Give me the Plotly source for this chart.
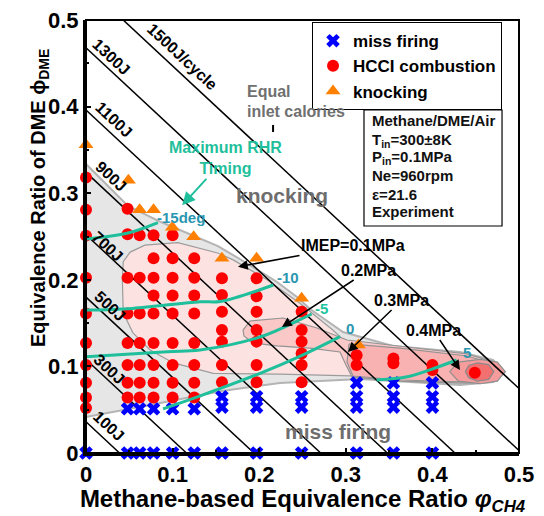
import plotly.graph_objects as go

FONT = "Liberation Sans, Arial, sans-serif"

# ---------------- data ----------------
# equal inlet-calorie lines (J/cycle): intercepts on the DME axis and methane axis
cal_E = [100, 300, 500, 700, 900, 1100, 1300, 1500]
cal_y0 = [0.036, 0.108, 0.180, 0.252, 0.324, 0.396, 0.468, 0.540]
cal_x0 = [0.0387, 0.116, 0.194, 0.271, 0.348, 0.426, 0.503, 0.580]
cal_text = ["100J", "300J", "500J", "700J", "900J", "1100J", "1300J", "1500J/cycle"]
cal_lab_x = [0.027, 0.027, 0.028, 0.025, 0.029, 0.032, 0.030, 0.111]
cal_lab_y = [0.031, 0.096, 0.169, 0.239, 0.319, 0.385, 0.457, 0.458]

# miss firing
miss_x = [0, 0.048, 0.062, 0.078, 0.1, 0.125, 0.157, 0.197, 0.249, 0.3125, 0.355, 0.4,
          0.048, 0.062, 0.078, 0.1, 0.125, 0.157, 0.197, 0.249, 0.3125, 0.355, 0.4,
          0.157, 0.197, 0.249, 0.3125, 0.355, 0.4,
          0.3125, 0.355, 0.4]
miss_y = [0] * 12 + [0.051] * 5 + [0.053] * 6 + [0.065] * 6 + [0.081] * 3

# HCCI combustion
hcci_x = ([0] * 10 + [0.048] * 8 + [0.062] * 7 + [0.078] * 9 + [0.1] * 9 + [0.125] * 8
          + [0.157] * 7 + [0.197] * 7 + [0.249] * 6 + [0.3125] * 2 + [0.355] * 2 + [0.4] * 2 + [0.449])
hcci_y = ([0.318, 0.281, 0.251, 0.2025, 0.161, 0.127, 0.1016, 0.081, 0.064, 0.052]
          + [0.282, 0.2525, 0.2025, 0.161, 0.127, 0.1016, 0.081, 0.064]
          + [0.2515, 0.2025, 0.161, 0.127, 0.1016, 0.081, 0.064]
          + [0.2515, 0.2248, 0.2025, 0.182, 0.161, 0.127, 0.1016, 0.081, 0.064]
          + [0.2515, 0.2248, 0.2025, 0.182, 0.161, 0.127, 0.1016, 0.081, 0.064]
          + [0.2248, 0.2025, 0.182, 0.161, 0.127, 0.1016, 0.081, 0.064]
          + [0.2017, 0.1824, 0.163, 0.142, 0.1286, 0.1016, 0.0816]
          + [0.2017, 0.181, 0.163, 0.142, 0.1286, 0.1016, 0.0816]
          + [0.163, 0.142, 0.1286, 0.115, 0.1016, 0.0816]
          + [0.113, 0.1016]
          + [0.109, 0.1036]
          + [0.1016, 0.0958]
          + [0.0927])

# knocking
knock_x = [0, 0.049, 0.062, 0.078, 0.0997, 0.1243, 0.157, 0.197, 0.249, 0.3145]
knock_y = [0.356, 0.315, 0.281, 0.281, 0.2606, 0.2498, 0.2248, 0.2248, 0.1786, 0.1247]

# IMEP regions (contour outlines)
gray_x = [0, 0.0485, 0.0866, 0.1259, 0.1524, 0.1813, 0.2206, 0.2436, 0.2587, 0.2968, 0.3545,
          0.4319, 0.47, 0.4838, 0.47, 0.4319, 0.3164, 0.224, 0.1571, 0.0739, 0]
gray_y = [0.3337, 0.2852, 0.2667, 0.2506, 0.239, 0.2217, 0.1975, 0.1801, 0.1663, 0.1397, 0.1236,
          0.1166, 0.1074, 0.0935, 0.082, 0.0785, 0.0855, 0.0808, 0.0716, 0.0554, 0.0416]
imep1_x = [0.042, 0.043, 0.051, 0.068, 0.106, 0.152, 0.170, 0.209, 0.247, 0.285, 0.301, 0.363,
           0.440, 0.470, 0.480, 0.470, 0.432, 0.363, 0.305, 0.224, 0.147, 0.101, 0.074, 0.054, 0.043]
imep1_y = [0.200, 0.221, 0.232, 0.240, 0.243, 0.231, 0.223, 0.200, 0.173, 0.142, 0.127, 0.119,
           0.110, 0.105, 0.094, 0.084, 0.081, 0.083, 0.089, 0.091, 0.092, 0.104, 0.119, 0.139, 0.162]
imep2_x = [0.1813, 0.1894, 0.2275, 0.2667, 0.3014, 0.3626, 0.44, 0.4746, 0.4815, 0.4746, 0.44,
           0.3626, 0.3072, 0.3002, 0.2933, 0.2587, 0.2206, 0.1928, 0.1824]
imep2_y = [0.142, 0.1524, 0.1559, 0.1443, 0.1305, 0.1236, 0.1143, 0.1039, 0.0935, 0.0831, 0.0808,
           0.0831, 0.0878, 0.1016, 0.1166, 0.1212, 0.1236, 0.127, 0.1351]
imep3_x = [0.3037, 0.3626, 0.44, 0.4711, 0.4769, 0.4711, 0.44, 0.3626, 0.3083, 0.3014]
imep3_y = [0.1259, 0.1212, 0.112, 0.1028, 0.0935, 0.0843, 0.082, 0.0843, 0.0889, 0.105]
imep35_x = [0.42, 0.43, 0.455, 0.475, 0.484, 0.475, 0.455, 0.43]
imep35_y = [0.094, 0.105, 0.108, 0.105, 0.094, 0.083, 0.080, 0.083]
imep4_x = [0.438, 0.442, 0.452, 0.465, 0.471, 0.465, 0.452, 0.442]
imep4_y = [0.094, 0.101, 0.104, 0.102, 0.094, 0.085, 0.083, 0.087]

# maximum RHR timing lines (deg)
rhr_labels = ["-15deg", "-10", "-5", "0", "5"]
rhr_lab_x = [0.1097, 0.2327, 0.2725, 0.3048, 0.4394]
rhr_lab_y = [0.2714, 0.2021, 0.1663, 0.1432, 0.1155]
rhr_lines_x = [[0, 0.0485, 0.083],
               [0, 0.054, 0.1316, 0.155, 0.2163],
               [0, 0.094, 0.1316, 0.201, 0.247, 0.2606],
               [0.089, 0.132, 0.201, 0.25, 0.2933],
               [0.3356, 0.371, 0.397, 0.428]]
rhr_lines_y = [[0.247, 0.254, 0.266],
               [0.165, 0.167, 0.1747, 0.175, 0.194],
               [0.111, 0.117, 0.119, 0.134, 0.154, 0.1605],
               [0.051, 0.066, 0.092, 0.113, 0.1343],
               [0.0843, 0.088, 0.096, 0.1074]]

# IMEP arrow labels: text, arrow-head position, text offset (px)
imep_text = ["IMEP=0.1MPa", "0.2MPa", "0.3MPa", "0.4MPa"]
imep_head_x = [0.1755, 0.2263, 0.3025, 0.4319]
imep_head_y = [0.215, 0.1455, 0.1166, 0.0958]
imep_ax = [115, 87, 54, -27]
imep_ay = [-21, -57, -52, -40]

ticks = [0, 0.1, 0.2, 0.3, 0.4, 0.5]
tick_text = ["0", "0.1", "0.2", "0.3", "0.4", "0.5"]

info_lines = ["Methane/DME/Air", "T<sub>in</sub>=300±8K", "P<sub>in</sub>=0.1MPa",
              "Ne=960rpm", "ε=21.6", "Experiment"]

TEAL = "#1fbf9c"
TEAL_LAB = ["#2a96b0", "#2a96b0", "#22c4a0", "#2a96b0", "#2a96b0"]


def bf(size, color="black"):
    return dict(family=FONT, size=size, color=color, weight="bold")


# ---------------- figure ----------------
fig = go.Figure()


def region(xs, ys, fill, line, width):
    fig.add_trace(go.Scatter(x=xs + xs[:1], y=ys + ys[:1], mode="lines", fill="toself",
                             fillcolor=fill, line=dict(color=line, width=width),
                             hoverinfo="skip", showlegend=False))


region(gray_x, gray_y, "#e6e6e6", "#b4b4b4", 2)
region(imep1_x, imep1_y, "#fde2e2", "#9c9c9c", 1.2)
region(imep2_x, imep2_y, "#fbc8c8", "#939393", 1.2)
region(imep3_x, imep3_y, "#f9b2b2", "#939393", 1.2)
region(imep35_x, imep35_y, "#f69c9c", "#8f8f8f", 1.2)
region(imep4_x, imep4_y, "#f27070", "#8a8a8a", 1.2)

for y0, x0 in zip(cal_y0, cal_x0):
    fig.add_trace(go.Scatter(x=[0, x0], y=[y0, 0], mode="lines",
                             line=dict(color="black", width=1.5),
                             hoverinfo="skip", showlegend=False))

fig.add_trace(go.Scatter(x=miss_x, y=miss_y, mode="markers", name="miss firing",
                         marker=dict(symbol="x", size=12, color="#0000ff",
                                     line=dict(width=0)), cliponaxis=False))
fig.add_trace(go.Scatter(x=hcci_x, y=hcci_y, mode="markers", name="HCCI combustion",
                         marker=dict(symbol="circle", size=12, color="#ff0000"),
                         cliponaxis=False))
fig.add_trace(go.Scatter(x=knock_x, y=knock_y, mode="markers", name="knocking",
                         marker=dict(symbol="triangle-up", size=13, color="#ff8000"),
                         cliponaxis=False))

for lx, ly in zip(rhr_lines_x, rhr_lines_y):
    fig.add_trace(go.Scatter(x=lx, y=ly, mode="lines", line=dict(color=TEAL, width=3, shape="spline"),
                             hoverinfo="skip", showlegend=False))

ann = []
for t, x, y in zip(cal_text, cal_lab_x, cal_lab_y):
    ann.append(dict(x=x, y=y, text="<b>" + t + "</b>", showarrow=False, textangle=43,
                    xanchor="center", yanchor="middle", font=bf(16)))
for t, x, y, c in zip(rhr_labels, rhr_lab_x, rhr_lab_y, TEAL_LAB):
    ann.append(dict(x=x, y=y, text="<b>" + t + "</b>", showarrow=False, font=bf(15, c)))
for t, hx, hy, ax, ay in zip(imep_text, imep_head_x, imep_head_y, imep_ax, imep_ay):
    ann.append(dict(x=hx, y=hy, text="<b>" + t + "</b>", showarrow=True, ax=ax, ay=ay, arrowhead=2,
                    arrowsize=1.3, arrowwidth=1.5, arrowcolor="black", font=bf(16)))
# Maximum RHR timing label with arrow
ann.append(dict(x=0.111, y=0.286, text="<b>Maximum RHR<br>Timing</b>", showarrow=True,
                ax=43, ay=-47, arrowhead=2, arrowsize=1.3, arrowwidth=2, arrowcolor=TEAL,
                font=bf(16, TEAL)))
# Gray labels
ann.append(dict(x=0.1836, y=0.4169, text="<b>Equal</b>", showarrow=False, xanchor="left",
                font=bf(16, "#707070")))
ann.append(dict(x=0.1836, y=0.3938, text="<b>inlet calories</b>", showarrow=False, xanchor="left",
                font=bf(16, "#707070")))
ann.append(dict(x=0.2263, y=0.2968, text="<b>knocking</b>", showarrow=False,
                font=bf(21, "#6e6e6e")))
ann.append(dict(x=0.291, y=0.0254, text="<b>miss firing</b>", showarrow=False,
                font=bf(21, "#6e6e6e")))
# info box
info_y = [0.3840, 0.3610, 0.3410, 0.3200, 0.2990, 0.2790]
for t, y in zip(info_lines, info_y):
    ann.append(dict(x=0.328, y=y, text="<b>" + t + "</b>", showarrow=False, xanchor="left",
                    yanchor="middle", font=bf(15, "#111111")))
# y axis title
ann.append(dict(xref="paper", yref="paper", x=-0.106, y=0.589, showarrow=False, textangle=-90,
                xanchor="center", yanchor="middle",
                text="<b>Equivalence Ratio of DME ϕ<sub>DME</sub></b>", font=bf(20)))

shapes = [
    dict(type="rect", xref="x", yref="y", x0=0.321, x1=0.4804, y0=0.2621, y1=0.3961,
         line=dict(color="black", width=1.2), fillcolor="rgba(0,0,0,0)"),
    dict(type="line", xref="x", yref="y", x0=0.216, x1=0.216, y0=0.3707, y1=0.3788,
         line=dict(color="black", width=2)),
    dict(type="rect", xref="paper", yref="paper", x0=0, x1=1, y0=0, y1=1,
         line=dict(color="black", width=2), layer="above"),
]

axis_common = dict(range=[0, 0.5], tickvals=ticks, ticktext=tick_text, showgrid=False,
                   zeroline=False, showline=True, linewidth=3, linecolor="black",
                   ticks="inside", ticklen=5, tickwidth=1.5, tickcolor="black",
                   minor=dict(ticks="inside", ticklen=3, dtick=0.05, tickcolor="black"),
                   tickfont=bf(22))

fig.update_layout(
    width=544, height=516,
    margin=dict(l=86, r=25, t=20, b=63, autoexpand=False),
    plot_bgcolor="white", paper_bgcolor="white",
    xaxis=dict(axis_common,
               title=dict(text="<b>Methane-based Equivalence Ratio <i>φ</i><sub><i>CH4</i></sub></b>",
                          font=bf(24), standoff=9)),
    yaxis=dict(axis_common),
    legend=dict(x=0.522, y=0.995, xanchor="left", yanchor="top", bordercolor="black",
                borderwidth=1, bgcolor="white", tracegroupgap=0,
                font=bf(17)),
    annotations=ann, shapes=shapes,
)

fig.write_html("out.html")
